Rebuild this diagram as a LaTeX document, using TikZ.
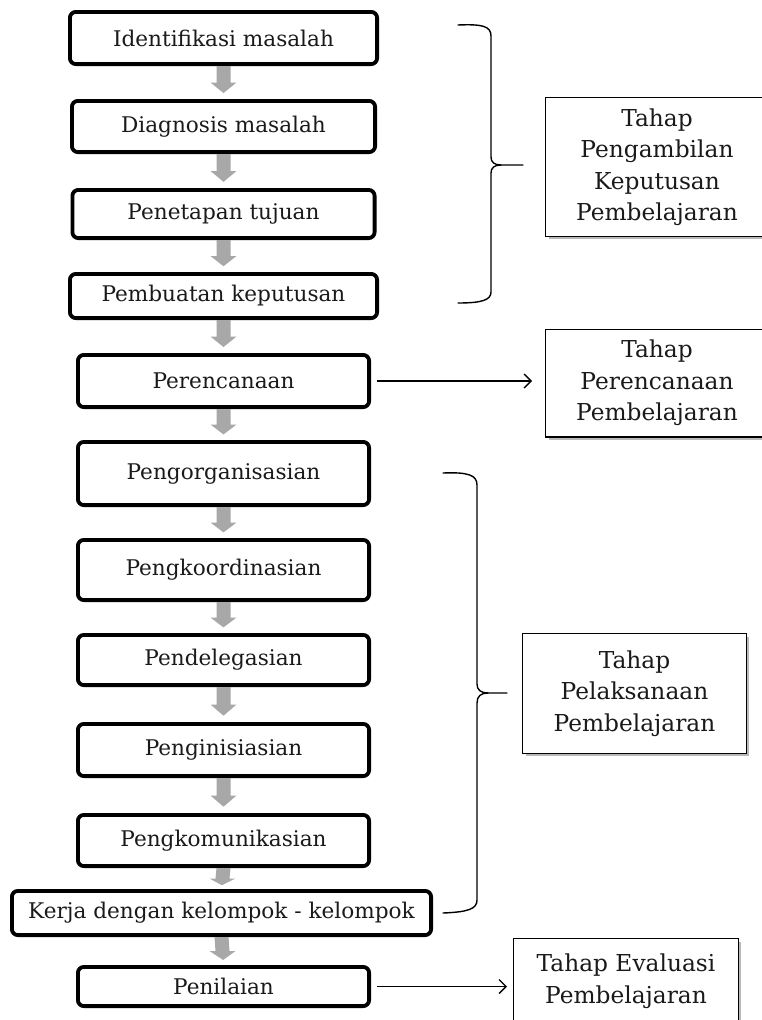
\documentclass[tikz,border=0pt]{standalone}
\usepackage{fontspec}
\setmainfont{DejaVu Serif}
\usetikzlibrary{calc,arrows.meta,shadows}
\newcommand\boxfont{\fontsize{21.6}{25}\selectfont}
\newcommand\sidefont{\fontsize{23.3}{31.5}\selectfont}
\definecolor{arrgray}{HTML}{A8A8A8}
\definecolor{txt}{HTML}{1A1A1A}
\tikzset{
  stepbox/.style={draw=black, line width=3.8pt, rounded corners=6pt, fill=white, inner sep=0pt, font=\boxfont, text=txt},
  sidebox/.style={draw=black, line width=1.3pt, fill=white, align=center, font=\sidefont, text=txt, inner sep=0pt,
    drop shadow={shadow xshift=3pt, shadow yshift=-3pt, fill=black!50, opacity=0.55}},
  link/.style={line width=1.3pt, -{Straight Barb[length=7pt,width=14pt,line width=1.3pt]}},
  bracepath/.style={line width=1.4pt, line cap=round},
}
\newcommand\grayarr[2]{%
  \fill[arrgray] ([xshift=-7pt]#1.south) -- ([xshift=-7pt]$(#1.south)!0.5!(#2.north)$)
    -- ([xshift=-13pt]$(#1.south)!0.5!(#2.north)$) -- ($(#1.south)!0.82!(#2.north)$)
    -- ([xshift=13pt]$(#1.south)!0.5!(#2.north)$) -- ([xshift=7pt]$(#1.south)!0.5!(#2.north)$)
    -- ([xshift=7pt]#1.south) -- cycle;}
\begin{document}
\begin{tikzpicture}[x=1pt,y=-1pt]
\useasboundingbox[fill=white] (0,0) rectangle (762,1020);
% left column
\node[stepbox, minimum width=307.2pt, minimum height=52.2pt] (s1) at (223.5,38) {Identifikasi masalah};
\node[stepbox, minimum width=303.2pt, minimum height=51.2pt] (s2) at (223.5,126.5) {Diagnosis masalah};
\node[stepbox, minimum width=302.2pt, minimum height=48.2pt] (s3) at (223.5,214) {Penetapan tujuan};
\node[stepbox, minimum width=307.2pt, minimum height=44.2pt] (s4) at (223.5,296) {Pembuatan keputusan};
\node[stepbox, minimum width=291.2pt, minimum height=52.2pt] (s5) at (223.5,381) {Perencanaan};
\node[stepbox, minimum width=291.2pt, minimum height=63.2pt] (s6) at (223.5,473.5) {Pengorganisasian};
\node[stepbox, minimum width=291.2pt, minimum height=60.2pt] (s7) at (223.5,570) {Pengkoordinasian};
\node[stepbox, minimum width=291.2pt, minimum height=50.2pt] (s8) at (223.5,660) {Pendelegasian};
\node[stepbox, minimum width=291.2pt, minimum height=52.2pt] (s9) at (223.5,750) {Penginisiasian};
\node[stepbox, minimum width=291.2pt, minimum height=51.2pt] (s10) at (223.5,840.5) {Pengkomunikasian};
\node[stepbox, minimum width=419.2pt, minimum height=44.2pt] (s11) at (221.5,913) {Kerja dengan kelompok - kelompok};
\node[stepbox, minimum width=291.2pt, minimum height=39.2pt] (s12) at (223.5,986.5) {Penilaian};
% gray arrows
\grayarr{s1}{s2}
\grayarr{s2}{s3}
\grayarr{s3}{s4}
\grayarr{s4}{s5}
\grayarr{s5}{s6}
\grayarr{s6}{s7}
\grayarr{s7}{s8}
\grayarr{s8}{s9}
\grayarr{s9}{s10}
\grayarr{s10}{s11}
\grayarr{s11}{s12}
% side boxes
\node[sidebox, minimum width=222.7pt, minimum height=138.7pt] (tA) at (657,167) {Tahap\\Pengambilan\\Keputusan\\Pembelajaran};
\node[sidebox, minimum width=222.7pt, minimum height=107.7pt] (tB) at (657,383) {Tahap\\Perencanaan\\Pembelajaran};
\node[sidebox, minimum width=223.7pt, minimum height=119.7pt] (tC) at (634.5,693.5) {Tahap\\Pelaksanaan\\Pembelajaran};
\node[sidebox, minimum width=224.7pt, minimum height=84.7pt] (tD) at (626,981) {Tahap Evaluasi\\Pembelajaran};
% connectors
\draw[link, shorten <=6pt, shorten >=13pt] (s5.east) -- (s5.east -| tB.west);
\draw[link, shorten <=6pt, shorten >=6pt] (s12.east) -- (s12.east -| tD.west);
% braces
\draw[bracepath] (458,25) .. controls (482,24) and (491,26) .. (491,36) -- (491,157)
  .. controls (491,162) and (494,165) .. (501,165) -- (523,165);
\draw[bracepath] (501,165) .. controls (494,165) and (491,168) .. (491,173) -- (491,292)
  .. controls (491,300) and (482,303) .. (458,303);
\draw[bracepath] (443,473) .. controls (468,472) and (477,475) .. (477,485) -- (477,684)
  .. controls (477,690) and (481,693) .. (488,693) -- (507,693);
\draw[bracepath] (488,693) .. controls (481,693) and (477,696) .. (477,703) -- (477,900)
  .. controls (477,909) and (468,912) .. (443,913);
\end{tikzpicture}
\end{document}
